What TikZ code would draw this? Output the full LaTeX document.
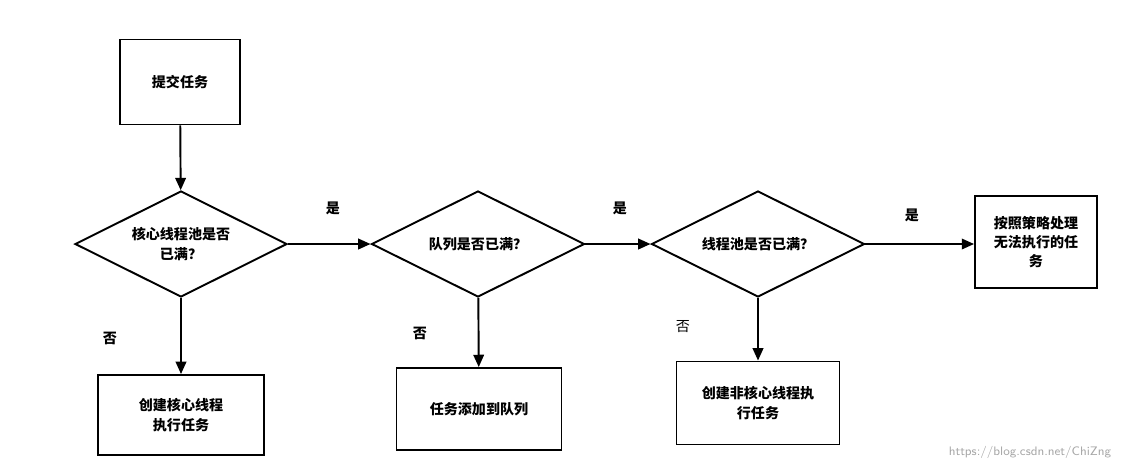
\documentclass[tikz,border=0pt]{standalone}
\usepackage{fontspec}
\newfontfamily\cjk{Noto Sans CJK SC}
\usetikzlibrary{shapes.geometric,arrows.meta}
\begin{document}
\begin{tikzpicture}[x=0.02cm,y=-0.02cm,
  every node/.style={font=\cjk\bfseries\fontsize{8}{11}\selectfont},
  box/.style={draw,line width=1.1pt,align=center,inner sep=0pt},
  dia/.style={draw,diamond,aspect=2.2,line width=1.1pt,align=center,inner sep=0pt},
  lbl/.style={font=\cjk\bfseries\fontsize{8}{10}\selectfont},
  arr/.style={line width=1.1pt,-{Triangle[length=7pt,width=6pt]}}]
\useasboundingbox (0,0) rectangle (1125,471);
\node[box,minimum width=120*0.02cm,minimum height=85*0.02cm] (s) at (180,82) {提交任务};
\node[dia,minimum width=212*0.02cm,minimum height=106*0.02cm] (d1) at (181,244) {核心线程池是否\\已满？};
\node[dia,minimum width=213*0.02cm,minimum height=106*0.02cm] (d2) at (478,244) {队列是否已满？};
\node[dia,minimum width=213*0.02cm,minimum height=106*0.02cm] (d3) at (758,244) {线程池是否已满？};
\node[box,minimum width=122*0.02cm,minimum height=92*0.02cm] (r) at (1036,242) {按照策略处理\\无法执行的任\\务};
\node[box,minimum width=166*0.02cm,minimum height=80*0.02cm] (b1) at (181,415) {创建核心线程\\执行任务};
\node[box,minimum width=165*0.02cm,minimum height=82*0.02cm] (b2) at (479,409) {任务添加到队列};
\node[box,minimum width=163*0.02cm,minimum height=83*0.02cm] (b3) at (758,403) {创建非核心线程执\\行任务};
\draw[arr] (s) -- (d1);
\draw[arr] (d1) -- (d2);
\draw[arr] (d2) -- (d3);
\draw[arr] (d3.east) -- (r.west|-d3.east);
\draw[arr] (d1) -- (b1);
\draw[arr] (d2) -- (b2);
\draw[arr] (d3) -- (b3);
\node[lbl] (y1) at (333,208) {是};
\node[lbl] (y2) at (620,208) {是};
\node[lbl] (y3) at (912,215) {是};
\node[lbl] (n1) at (110,338) {否};
\node[lbl] (n2) at (420,333) {否};
\node[lbl,font=\cjk\fontsize{8}{10}\selectfont] (n3) at (683,327) {否};
\node[font=\sffamily\fontsize{7}{9}\selectfont,text=gray!70] (w) at (1030,452) {https://blog.csdn.net/ChiZng};
\end{tikzpicture}
\end{document}
